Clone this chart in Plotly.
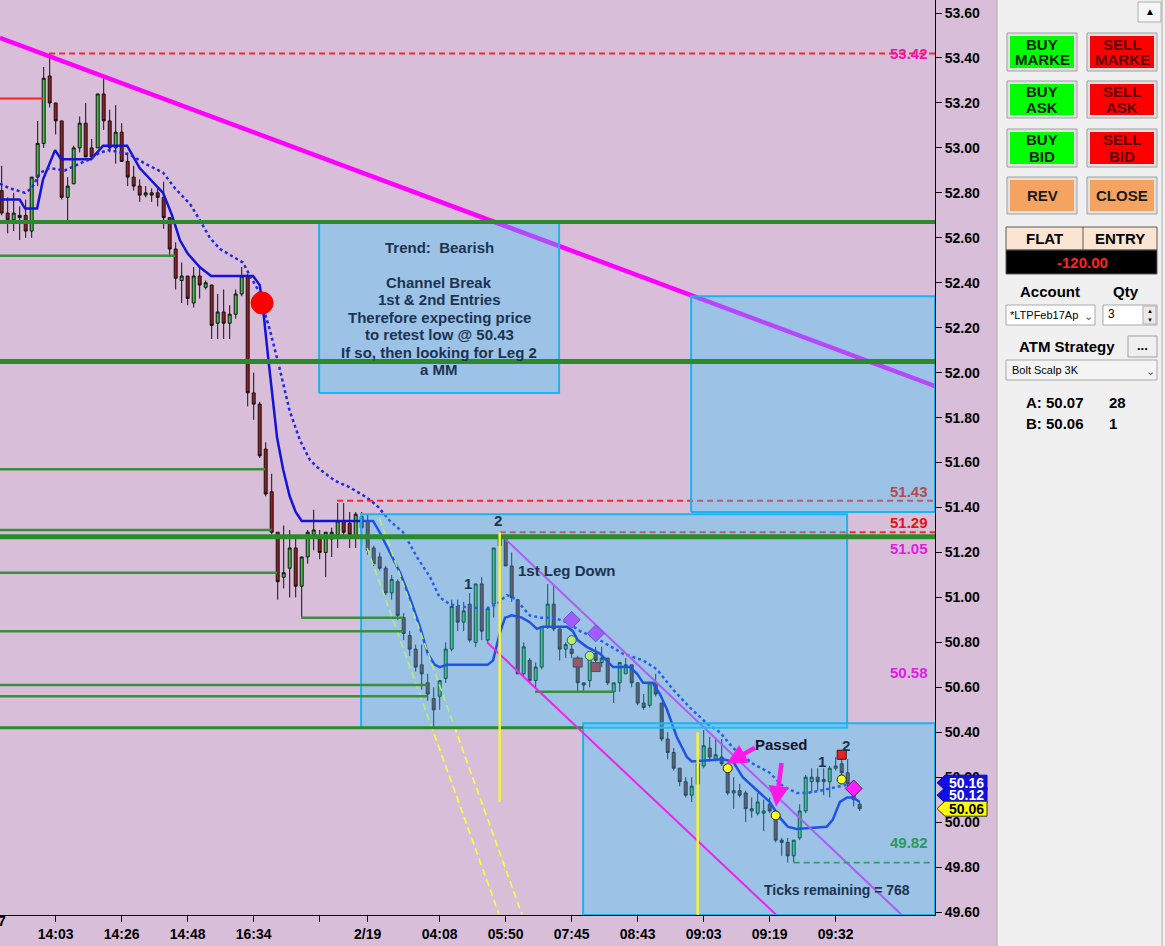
"""Tick chart with drawings and chart trader panel (NinjaTrader style screenshot)."""
import plotly.graph_objects as go

# screenshot geometry (px) of the price pane
W, H = 1165, 946
PANE_R, PANE_B = 935, 915
X_MIN, X_MAX = -0.28, 155.55
Y_MIN, Y_MAX = 49.587, 53.658

PINK = "#D8BED8"
BOX_FILL = "rgba(47,204,255,0.35)"
BOX_EDGE = "#1CB4F0"
NAVY = "#1B3452"
FONT = "Liberation Sans"

# ---------------------------------------------------------------- data
open_ = [52.81, 52.71, 52.68, 52.70, 52.70, 52.63, 52.87, 53.02, 53.32, 53.20,
         53.12, 52.78, 52.84, 53.00, 53.11, 53.00, 53.00, 53.24, 53.12, 53.00,
         53.07, 52.94, 52.87, 52.83, 52.79, 52.80, 52.80, 52.78, 52.69, 52.55,
         52.41, 52.43, 52.31, 52.43, 52.38, 52.39, 52.22, 52.27, 52.22, 52.26,
         52.35, 52.43, 51.91, 51.86, 51.66, 51.47, 51.29, 51.09, 51.13, 51.22,
         51.05, 51.18, 51.28, 51.26, 51.20, 51.26, 51.28, 51.34, 51.33, 51.27,
         51.36, 51.34, 51.22, 51.18, 51.13, 51.02, 51.07, 50.91, 50.83, 50.77,
         50.70, 50.62, 50.55, 50.56, 50.64, 50.77, 50.96, 50.89, 50.97, 50.80,
         51.06, 50.81, 50.97, 51.23, 51.26, 51.14, 50.99, 50.66, 50.72, 50.63,
         50.69, 50.87, 50.97, 50.86, 50.77, 50.77, 50.73, 50.62, 50.63, 50.75,
         50.71, 50.73, 50.58, 50.62, 50.66, 50.70, 50.62, 50.53, 50.52, 50.62,
         50.53, 50.37, 50.31, 50.24, 50.18, 50.12, 50.17, 50.25, 50.33, 50.28,
         50.29, 50.24, 50.13, 50.14, 50.13, 50.05, 50.04, 50.04, 50.08, 50.02,
         49.92, 49.91, 49.85, 49.93, 50.05, 50.18, 50.20, 50.18, 50.18, 50.24,
         50.26, 50.22, 50.17, 50.08]
high_ = [52.92, 52.78, 52.80, 52.74, 52.77, 52.87, 53.12, 53.36, 53.42, 53.20,
         53.12, 52.87, 53.01, 53.14, 53.20, 53.04, 53.24, 53.31, 53.17, 53.19,
         53.11, 52.98, 52.92, 52.86, 52.83, 52.82, 52.82, 52.85, 52.69, 52.58,
         52.49, 52.43, 52.47, 52.47, 52.41, 52.39, 52.35, 52.37, 52.30, 52.37,
         52.47, 52.44, 52.00, 51.87, 51.69, 51.55, 51.29, 51.32, 51.30, 51.26,
         51.18, 51.30, 51.39, 51.30, 51.29, 51.31, 51.42, 51.42, 51.38, 51.38,
         51.38, 51.37, 51.23, 51.20, 51.14, 51.10, 51.08, 50.93, 50.85, 50.79,
         50.79, 50.66, 50.60, 50.63, 50.80, 50.99, 50.99, 50.98, 51.02, 51.06,
         51.09, 50.96, 51.22, 51.29, 51.27, 51.20, 50.99, 50.80, 50.73, 50.71,
         50.87, 51.06, 51.06, 50.86, 50.80, 50.81, 50.74, 50.62, 50.74, 50.78,
         50.78, 50.73, 50.62, 50.71, 50.73, 50.70, 50.62, 50.57, 50.62, 50.66,
         50.53, 50.40, 50.33, 50.24, 50.20, 50.20, 50.28, 50.41, 50.38, 50.37,
         50.37, 50.25, 50.20, 50.17, 50.14, 50.11, 50.13, 50.10, 50.11, 50.05,
         49.93, 49.93, 49.92, 50.08, 50.21, 50.24, 50.24, 50.24, 50.25, 50.29,
         50.31, 50.28, 50.18, 50.09]
low_ = [52.70, 52.62, 52.63, 52.59, 52.60, 52.60, 52.83, 53.00, 53.18, 53.06,
        52.77, 52.67, 52.84, 52.98, 52.96, 52.95, 53.00, 53.08, 52.98, 52.93,
        52.94, 52.83, 52.81, 52.76, 52.78, 52.76, 52.74, 52.64, 52.52, 52.37,
        52.31, 52.30, 52.29, 52.33, 52.37, 52.15, 52.15, 52.15, 52.15, 52.24,
        52.34, 51.85, 51.79, 51.62, 51.45, 51.28, 50.99, 51.04, 51.00, 51.00,
        50.91, 51.15, 51.21, 51.17, 51.09, 51.18, 51.22, 51.26, 51.22, 51.22,
        51.23, 51.19, 51.14, 51.12, 51.01, 50.99, 50.90, 50.81, 50.74, 50.67,
        50.59, 50.54, 50.42, 50.50, 50.62, 50.76, 50.85, 50.85, 50.80, 50.78,
        50.81, 50.80, 50.91, 51.23, 51.14, 50.98, 50.66, 50.65, 50.62, 50.60,
        50.68, 50.86, 50.85, 50.72, 50.73, 50.73, 50.58, 50.58, 50.60, 50.69,
        50.69, 50.61, 50.53, 50.58, 50.66, 50.60, 50.52, 50.50, 50.51, 50.56,
        50.36, 50.28, 50.23, 50.16, 50.11, 50.09, 50.16, 50.24, 50.27, 50.27,
        50.25, 50.12, 50.06, 50.11, 50.00, 50.02, 50.03, 49.96, 50.04, 49.91,
        49.85, 49.82, 49.82, 49.92, 50.04, 50.13, 50.14, 50.12, 50.11, 50.23,
        50.18, 50.16, 50.07, 50.05]
close_ = [52.71, 52.68, 52.71, 52.69, 52.63, 52.87, 53.02, 53.31, 53.20, 53.12,
          52.78, 52.83, 53.00, 53.11, 52.96, 52.96, 53.24, 53.12, 53.00, 53.07,
          52.94, 52.87, 52.83, 52.79, 52.80, 52.79, 52.78, 52.69, 52.55, 52.42,
          52.43, 52.33, 52.43, 52.39, 52.40, 52.21, 52.27, 52.22, 52.26, 52.35,
          52.43, 51.91, 51.86, 51.63, 51.46, 51.29, 51.07, 51.11, 51.22, 51.05,
          51.18, 51.29, 51.30, 51.20, 51.29, 51.29, 51.34, 51.29, 51.28, 51.37,
          51.31, 51.21, 51.15, 51.13, 51.02, 51.08, 50.92, 50.84, 50.77, 50.69,
          50.66, 50.57, 50.50, 50.63, 50.77, 50.96, 50.89, 50.94, 50.81, 51.06,
          50.85, 50.95, 51.22, 51.26, 51.14, 51.00, 50.66, 50.78, 50.63, 50.69,
          50.87, 50.97, 50.86, 50.77, 50.79, 50.75, 50.62, 50.61, 50.74, 50.72,
          50.73, 50.62, 50.62, 50.71, 50.70, 50.62, 50.53, 50.51, 50.62, 50.57,
          50.37, 50.31, 50.24, 50.18, 50.12, 50.16, 50.26, 50.34, 50.29, 50.30,
          50.26, 50.13, 50.14, 50.12, 50.06, 50.06, 50.09, 50.05, 50.05, 49.92,
          49.91, 49.85, 49.92, 50.05, 50.20, 50.20, 50.18, 50.19, 50.24, 50.25,
          50.22, 50.17, 50.10, 50.06]
bars = list(range(len(close_)))

tick_bars = [9, 20, 31, 42, 53, 61, 73, 84, 95, 106, 117, 128, 139]
tick_labels = ["14:03", "14:26", "14:48", "16:34", "", "2/19", "04:08",
               "05:50", "07:45", "08:43", "09:03", "09:19", "09:32"]

# stepped average (solid) and EMA (dotted), read at their turning points
ma_bars = [-0.3, 3.0, 3.9, 5.9, 6.9, 8.9, 9.9, 14.9, 16.9, 20.9, 23.0, 24.7,
           26.9, 28.4, 29.7, 31.0, 33.0, 34.9, 41.9, 43.0, 43.5, 44.4, 45.9,
           46.9, 48.0, 49.0, 50.0, 61.9, 63.0, 64.7, 66.4, 68.0, 69.7, 71.0,
           72.2, 73.0, 74.2, 81.0, 81.9, 83.0, 83.9, 85.0, 86.7, 88.0, 89.2,
           90.2, 94.2, 95.2, 96.0, 97.5, 99.7, 101.9, 104.7, 105.9, 106.9,
           108.5, 109.7, 110.9, 112.5, 114.2, 115.0, 120.2, 121.9, 123.5,
           125.9, 128.0, 129.7, 131.0, 132.5, 137.5, 138.5, 139.7, 140.9,
           141.9, 143.0]
ma_vals = [52.77, 52.77, 52.73, 52.73, 52.86, 52.99, 52.95, 52.95, 53.01, 53.01,
           52.91, 52.86, 52.80, 52.70, 52.59, 52.53, 52.47, 52.43, 52.43, 52.39,
           52.30, 52.07, 51.71, 51.57, 51.45, 51.38, 51.34, 51.34, 51.29, 51.20,
           51.11, 51.00, 50.87, 50.75, 50.70, 50.69, 50.70, 50.70, 50.72, 50.84,
           50.91, 50.92, 50.91, 50.89, 50.86, 50.87, 50.87, 50.85, 50.81, 50.78,
           50.75, 50.69, 50.69, 50.66, 50.62, 50.62, 50.57, 50.50, 50.38, 50.29,
           50.27, 50.28, 50.27, 50.20, 50.14, 50.09, 50.02, 49.98, 49.97, 49.98,
           50.01, 50.09, 50.11, 50.11, 50.09]
ema_bars = [-0.3, 1.4, 3.9, 5.0, 6.4, 8.0, 10.5, 12.2, 14.7, 16.4, 18.0, 19.7,
            21.4, 23.9, 26.9, 28.9, 31.4, 33.0, 34.7, 36.4, 38.9, 40.2, 41.4,
            42.7, 43.9, 44.7, 46.4, 48.0, 49.7, 51.4, 53.0, 55.5, 58.0, 60.5,
            62.5, 64.7, 66.9, 69.2, 71.4, 73.0, 74.7, 76.4, 80.9, 82.5, 84.2,
            85.2, 86.7, 88.0, 89.7, 91.9, 94.2, 96.4, 99.7, 103.5, 106.9, 109.2,
            111.9, 114.7, 117.5, 119.7, 121.9, 125.2, 128.0, 130.2, 132.5,
            134.2, 136.4, 139.7, 141.4, 142.7]
ema_vals = [52.84, 52.82, 52.80, 52.82, 52.89, 52.91, 52.90, 52.92, 52.95, 52.98,
            52.99, 52.98, 52.97, 52.93, 52.89, 52.82, 52.75, 52.68, 52.60, 52.55,
            52.51, 52.49, 52.43, 52.37, 52.26, 52.19, 52.01, 51.83, 51.70, 51.61,
            51.57, 51.52, 51.49, 51.45, 51.41, 51.34, 51.29, 51.18, 51.09, 51.00,
            50.97, 50.96, 50.95, 50.97, 51.01, 51.00, 50.96, 50.92, 50.91, 50.91,
            50.89, 50.85, 50.81, 50.75, 50.72, 50.68, 50.59, 50.51, 50.44, 50.40,
            50.33, 50.26, 50.22, 50.16, 50.13, 50.13, 50.14, 50.16, 50.17, 50.15]

# drawn trend lines: [start bar, end bar], [start price, end price]
trend_bars, trend_prices = [-0.3, 155.6], [53.49, 51.94]
chan_up_bars, chan_up_prices = [83.9, 149.9], [51.26, 49.59]
chan_lo_bars, chan_lo_prices = [80.9, 129.0], [50.80, 49.59]
fan_a_bars, fan_a_prices = [60.9, 82.9], [51.22, 49.59]
fan_b_bars, fan_b_prices = [63.0, 86.7], [51.35, 49.59]

# horizontal levels
support_prices = [52.67, 52.52, 52.05, 51.57, 51.30, 51.27, 51.11, 50.91,
                  50.85, 50.61, 50.56, 50.58, 50.42]
support_from = [X_MIN, X_MIN, X_MIN, X_MIN, X_MIN, X_MIN, X_MIN, 49.9,
                X_MIN, X_MIN, X_MIN, 88.9, X_MIN]
support_to = [X_MAX, 28.9, X_MAX, 43.9, 45.0, X_MAX, 45.9, 66.9,
              66.9, 70.9, 70.9, 101.9, 96.9]
resist_prices = [53.42, 51.43, 51.29]
resist_from = [7.9, 55.9, 83.0]
old_high_price, old_high_to = 53.22, 6.9
target_low_price, target_low_from = 49.82, 132.0

# vertical markers: bar, top price, bottom price
vline_bars = [83.0, 116.0]
vline_top = [51.29, 50.40]
vline_bottom = [50.09, Y_MIN]

# rectangles
box_x0 = [52.9, 59.9, 96.9, 114.9]
box_x1 = [92.9, 140.9, X_MAX, X_MAX]
box_y0 = [51.91, 50.42, Y_MIN, 51.38]
box_y1 = [52.67, 51.37, 50.44, 52.34]

# signal markers
entry_bar, entry_price = 43.4, 52.31
dot_bars = [95, 98, 121, 129, 140]
dot_prices = [50.81, 50.74, 50.24, 50.03, 50.19]
diamond_bars = [95, 99, 142]
diamond_prices = [50.90, 50.84, 50.15]
square_bars = [96, 99, 140]
square_prices = [50.71, 50.69, 50.30]

# right axis price tags
tag_prices = [50.16, 50.12, 50.06]
level_labels = ["53.42", "51.43", "51.29", "51.05", "50.58", "49.82"]

note_lines = ["Trend:  Bearish", "Channel Break", "1st & 2nd Entries",
              "Therefore expecting price", "to retest low @ 50.43",
              "If so, then looking for Leg 2", "a MM"]

pnl = "-120.00"
ask_price, ask_size = "50.07", "28"
bid_price, bid_size = "50.06", "1"


# ---------------------------------------------------------------- helpers
def px_x(x):
    return x / PANE_R


def px_y(y):
    return (PANE_B - y) / PANE_B


def add_line(fig, x, y, color, width, dash="solid"):
    fig.add_trace(go.Scatter(x=x, y=y, mode="lines", hoverinfo="skip",
                             line=dict(color=color, width=width, dash=dash)))


def add_marks(fig, x, y, symbol, size, color, edge="#202020"):
    fig.add_trace(go.Scatter(x=x, y=y, mode="markers", hoverinfo="skip",
                             marker=dict(symbol=symbol, size=size, color=color,
                                         line=dict(color=edge, width=1))))


def panel_rect(shapes, x0, y0, x1, y1, fill, edge=None, width=1):
    shapes.append(dict(type="rect", xref="paper", yref="paper", layer="above",
                       x0=px_x(x0), x1=px_x(x1), y0=px_y(y1), y1=px_y(y0),
                       fillcolor=fill,
                       line=dict(color=edge or fill, width=width if edge else 0)))


def panel_text(annots, x, y, text, size=15, color="black", bold=True, anchor="center"):
    annots.append(dict(xref="paper", yref="paper", x=px_x(x), y=px_y(y), text=text,
                       showarrow=False, xanchor=anchor, yanchor="middle",
                       font=dict(family=FONT, size=size, color=color,
                                 weight="bold" if bold else "normal")))


# ---------------------------------------------------------------- figure
fig = go.Figure()

fig.add_trace(go.Candlestick(
    x=bars, open=open_, high=high_, low=low_, close=close_,
    increasing=dict(line=dict(color="#101010", width=1), fillcolor="#3CC83C"),
    decreasing=dict(line=dict(color="#101010", width=1), fillcolor="#A01C1C"),
    whiskerwidth=0, hoverinfo="skip"))

add_line(fig, ma_bars, ma_vals, "#1414D8", 2.5)
add_line(fig, ema_bars, ema_vals, "#1E28E6", 2.5, "dot")

add_line(fig, trend_bars, trend_prices, "#FF00FF", 4.5)
add_line(fig, chan_up_bars, chan_up_prices, "#EE22EE", 2)
add_line(fig, fan_a_bars, fan_a_prices, "#FFFF30", 1.6, "7px,4px")
add_line(fig, fan_b_bars, fan_b_prices, "#FFFF30", 1.6, "7px,4px")

add_line(fig, [X_MIN, old_high_to], [old_high_price] * 2, "#FF2020", 2)
for p, x0 in zip(resist_prices, resist_from):
    add_line(fig, [x0, X_MAX], [p, p], "#F82828", 2, "6px,4px")
add_line(fig, [target_low_from, X_MAX], [target_low_price] * 2, "#228B22", 1.8, "6px,4px")

# markers that sit under the translucent rectangles
early = [i for i, b in enumerate(dot_bars) if b < 110]
add_marks(fig, [dot_bars[i] for i in early], [dot_prices[i] for i in early],
          "circle", 9, "#FFFF20")
add_marks(fig, diamond_bars[:2], diamond_prices[:2], "diamond", 13, "#E020FF", "#7020A0")
add_marks(fig, square_bars[:2], square_prices[:2], "square", 9, "#C81E1E", "#501010")

# translucent rectangles
for x0, x1, y0, y1 in zip(box_x0, box_x1, box_y0, box_y1):
    fig.add_trace(go.Scatter(x=[x0, x1, x1, x0, x0], y=[y0, y0, y1, y1, y0],
                             mode="lines", fill="toself", fillcolor=BOX_FILL,
                             line=dict(color=BOX_EDGE, width=2), hoverinfo="skip"))

heavy = {52.67: 4, 52.05: 5, 51.27: 5, 50.42: 3}
for p, x0, x1 in zip(support_prices, support_from, support_to):
    add_line(fig, [x0, x1], [p, p], "#2B8A2B" if p in heavy else "#3A8E3E",
             heavy.get(p, 2.5))

add_line(fig, chan_lo_bars, chan_lo_prices, "#EE22EE", 2)

for b, top, bot in zip(vline_bars, vline_top, vline_bottom):
    add_line(fig, [b, b], [top, bot], "#F4F43C", 2.5)

add_marks(fig, [entry_bar], [entry_price], "circle", 22, "#FF0000", "#FF0000")
late = [i for i, b in enumerate(dot_bars) if b >= 110]
add_marks(fig, [dot_bars[i] for i in late], [dot_prices[i] for i in late],
          "circle", 9, "#FFFF20")
add_marks(fig, square_bars[2:], square_prices[2:], "square", 9, "#E82020", "#401010")
add_marks(fig, diamond_bars[2:], diamond_prices[2:], "diamond", 13, "#FF20FF", "#502050")

# ---------------------------------------------------------------- texts
annots = []
note_y = [247, 282, 299, 317, 335, 352, 369]
for txt, y in zip(note_lines, note_y):
    annots.append(dict(xref="paper", yref="paper", x=px_x(439), y=px_y(y), text=txt,
                       showarrow=False, yanchor="middle",
                       font=dict(family=FONT, size=15, color=NAVY, weight="bold")))

for x, y, txt, anchor in [(82.8, 51.34, "2", "center"), (77.8, 51.06, "1", "center"),
                          (85.7, 51.12, "1st Leg Down", "left"),
                          (136.7, 50.27, "1", "center"), (140.7, 50.34, "2", "center")]:
    annots.append(dict(x=x, y=y, text=txt, showarrow=False, xanchor=anchor,
                       font=dict(family=FONT, size=15, color=NAVY, weight="bold")))

annots.append(dict(x=129.9, y=50.345, text="Passed", showarrow=False,
                   font=dict(family=FONT, size=15, color="#141428", weight="bold")))
for tip, tail in [((120.8, 50.26), (125.8, 50.335)), ((129.05, 50.07), (130.0, 50.27))]:
    annots.append(dict(x=tip[0], y=tip[1], ax=tail[0], ay=tail[1], axref="x", ayref="y",
                       text="", showarrow=True, arrowhead=2, arrowsize=0.9,
                       arrowwidth=4.5, arrowcolor="#FF18E8", standoff=0))

annots.append(dict(xref="paper", yref="paper", x=px_x(912), y=px_y(900),
                   xanchor="right", text="Ticks remaining = 768", showarrow=False,
                   font=dict(family=FONT, size=14, color=NAVY, weight="bold")))

level_y = [43, 491, 523, 548, 683, 853]
level_color = ["#EE12AA", "#B84A4A", "#E81212", "#E020E0", "#E020E0", "#2A9A58"]
for txt, y, c in zip(level_labels, level_y, level_color):
    annots.append(dict(xref="paper", yref="paper", x=px_x(930), y=px_y(y),
                       xanchor="right", text=txt, showarrow=False,
                       font=dict(family=FONT, size=15, color=c, weight="bold")))

# clipped time label at the left edge
annots.append(dict(xref="paper", yref="paper", x=px_x(8), y=px_y(931), xanchor="right",
                   text="7", showarrow=False,
                   font=dict(family=FONT, size=14, color="black", weight="bold")))

# ---------------------------------------------------------------- price tags
# tags are stacked so each stays at least 12.5 px above the one below it
shapes = []
per_px = (Y_MAX - Y_MIN) / PANE_B
hh, gap = 7.5 * per_px, 12.5 * per_px
tag_pos = list(tag_prices)
for i in range(len(tag_pos) - 2, -1, -1):
    tag_pos[i] = max(tag_pos[i], tag_pos[i + 1] + gap)

tag_style = [("#1010E0", "white", "#0808A0"), ("#1010E0", "white", "#0808A0"),
             ("#FFFF00", "black", "#303030")]
for p, y, (bg, fg, edge) in zip(tag_prices, tag_pos, tag_style):
    tip, x1, x2 = px_x(937), px_x(945), px_x(987)
    shapes.append(dict(type="path", xref="paper", yref="y", layer="above",
                       path=f"M {tip},{y} L {x1},{y + hh} L {x2},{y + hh} "
                            f"L {x2},{y - hh} L {x1},{y - hh} Z",
                       fillcolor=bg, line=dict(color=edge, width=1)))
    annots.append(dict(xref="paper", yref="y", x=px_x(966), y=y, text=f"{p:.2f}",
                       xanchor="center", yanchor="middle", showarrow=False,
                       font=dict(family=FONT, size=14, color=fg, weight="bold")))

# ---------------------------------------------------------------- chart trader panel
panel_rect(shapes, 997, -1, 1166, 947, "#F0F0F0", "#A8A8A8")
shapes.append(dict(type="line", xref="paper", yref="paper", layer="above",
                   x0=px_x(1162), x1=px_x(1162), y0=px_y(947), y1=px_y(0),
                   line=dict(color="#B0B0B0", width=1)))
panel_rect(shapes, 1138, 2, 1161, 22, "#F6F6F6", "#ADADAD")
panel_text(annots, 1149.5, 12, "▲", size=10)

rows = [(33, 71, "BUY", "MARKE"), (81, 118, "BUY", "ASK"), (129, 167, "BUY", "BID")]
for y0, y1, side, kind in rows:
    for x0, x1, fill, top, col in [(1007, 1077, "#00FF00", side, "#0C220C"),
                                   (1087, 1157, "#FF0000", "SELL", "#5A0000")]:
        mid = (y0 + y1) / 2
        panel_rect(shapes, x0, y0, x1, y1, "#E2E2E2", "#A0A0A0")
        panel_rect(shapes, x0 + 3, y0 + 3, x1 - 3, y1 - 3, fill)
        panel_text(annots, (x0 + x1) / 2, mid - 8, top, size=15, color=col)
        panel_text(annots, (x0 + x1) / 2, mid + 8, kind, size=15, color=col)
for x0, x1, txt in [(1007, 1077, "REV"), (1087, 1157, "CLOSE")]:
    panel_rect(shapes, x0, 177, x1, 214, "#E2E2E2", "#A0A0A0")
    panel_rect(shapes, x0 + 3, 180, x1 - 3, 211, "#F4A460")
    panel_text(annots, (x0 + x1) / 2, 195.5, txt, size=15, color="#1A1A1A")

panel_rect(shapes, 1006, 227, 1157, 250, "#FBE5D2", "#5A5A5A")
shapes.append(dict(type="line", xref="paper", yref="paper", layer="above",
                   x0=px_x(1083), x1=px_x(1083), y0=px_y(227), y1=px_y(250),
                   line=dict(color="#5A5A5A", width=1)))
panel_rect(shapes, 1006, 250, 1157, 274, "#000000", "#5A5A5A")
panel_text(annots, 1044, 238.5, "FLAT")
panel_text(annots, 1120, 238.5, "ENTRY")
panel_text(annots, 1082, 262, pnl, color="#FF2424")

panel_text(annots, 1050, 292, "Account")
panel_text(annots, 1126, 292, "Qty")
panel_rect(shapes, 1006, 305, 1095, 325, "#FFFFFF", "#A8A8A8")
panel_text(annots, 1008, 315, "*LTPFeb17Ap", size=11, bold=False, anchor="left")
panel_text(annots, 1088, 316, "⌄", size=11, color="#555555", bold=False)
panel_rect(shapes, 1103, 305, 1157, 325, "#FFFFFF", "#A8A8A8")
panel_text(annots, 1106, 314, "3", size=12, bold=False, anchor="left")
panel_rect(shapes, 1143, 306, 1156, 324, "#EAEAEA", "#B0B0B0")
panel_text(annots, 1149.5, 310.5, "▲", size=6)
panel_text(annots, 1149.5, 319.5, "▼", size=6)

panel_text(annots, 1067, 346, "ATM Strategy")
panel_rect(shapes, 1128, 336, 1157, 357, "#EFEFEF", "#A0A0A0")
panel_text(annots, 1142.5, 345, "...", size=13)
panel_rect(shapes, 1006, 360, 1157, 380, "#F4F4F4", "#A8A8A8")
panel_text(annots, 1010, 370, "Bolt Scalp 3K", size=11, bold=False, anchor="left")
panel_text(annots, 1150, 371, "⌄", size=11, color="#555555", bold=False)

panel_text(annots, 1055, 402, f"A: {ask_price}")
panel_text(annots, 1107, 402, ask_size, anchor="left")
panel_text(annots, 1055, 423, f"B: {bid_price}")
panel_text(annots, 1107, 423, bid_size, anchor="left")

# ---------------------------------------------------------------- layout
axis_font = dict(family=FONT, size=14, color="black", weight="bold")
fig.update_layout(
    width=W, height=H,
    margin=dict(l=0, r=W - PANE_R, t=0, b=H - PANE_B),
    paper_bgcolor=PINK, plot_bgcolor=PINK,
    showlegend=False, hovermode=False,
    shapes=shapes, annotations=annots,
    xaxis=dict(range=[X_MIN, X_MAX], rangeslider=dict(visible=False),
               tickvals=tick_bars, ticktext=tick_labels, tickfont=axis_font,
               showgrid=False, zeroline=False, showline=True, linecolor="black",
               ticks="outside", ticklen=6, tickcolor="black"),
    yaxis=dict(range=[Y_MIN, Y_MAX], side="right", tick0=49.6, dtick=0.2,
               tickformat=".2f", tickfont=axis_font,
               showgrid=False, zeroline=False, showline=True, linecolor="black",
               ticks="outside", ticklen=6, tickcolor="black"),
)

fig.write_html("out.html", config={"displayModeBar": False},
               post_script="document.body.style.margin='0';"
                           "document.body.style.overflow='hidden';")
